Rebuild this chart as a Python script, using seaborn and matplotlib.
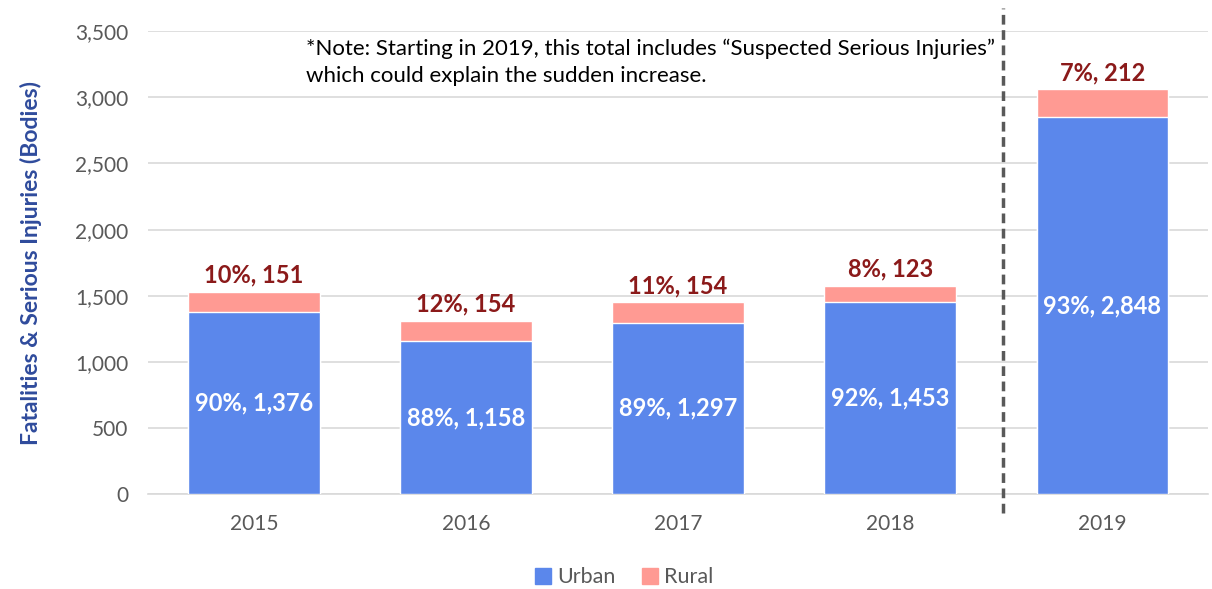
import matplotlib
matplotlib.use('Agg')
import matplotlib.pyplot as plt
from matplotlib.patches import Patch
import seaborn as sns
import pandas as pd

# data
years = ['2015', '2016', '2017', '2018', '2019']
urban = [1376, 1158, 1297, 1453, 2848]
rural = [151, 154, 154, 123, 212]
urban_pct = [90, 88, 89, 92, 93]
rural_pct = [10, 12, 11, 8, 7]
y_ticks = [0, 500, 1000, 1500, 2000, 2500, 3000, 3500]

urban_color = '#5B87EB'
rural_color = '#FF9A93'

df = pd.DataFrame({'Year': years, 'Urban': urban, 'Rural': rural})
df['Total'] = df['Urban'] + df['Rural']

sns.set_style('white')
plt.rcParams['font.family'] = ['Lato', 'DejaVu Sans']

fig = plt.figure(figsize=(12.12, 5.89), dpi=100)
ax = fig.add_axes([0.122, 0.161, 0.875, 0.786])

# stacked bars: total (rural colour) behind, urban in front
sns.barplot(data=df, x='Year', y='Total', color=rural_color, width=0.62,
            saturation=1, ax=ax, zorder=2)
sns.barplot(data=df, x='Year', y='Urban', color=urban_color, width=0.62,
            saturation=1, ax=ax, zorder=3)

ax.set_xlim(-0.5, len(years) - 0.5)
ax.set_ylim(0, 3500)
ax.set_yticks(y_ticks)
ax.set_yticklabels([f'{t:,}' for t in y_ticks])
ax.yaxis.grid(True, color='#D9D9D9', linewidth=1.2, zorder=0)
ax.set_axisbelow(True)
for s in ['top', 'right', 'left']:
    ax.spines[s].set_visible(False)
ax.spines['bottom'].set_color('#D9D9D9')
ax.spines['bottom'].set_linewidth(1.2)
ax.tick_params(axis='both', length=0, labelsize=15, colors='#595959')
ax.tick_params(axis='x', pad=14)
ax.tick_params(axis='y', pad=14)
ax.set_xlabel('')
ax.set_ylabel('Fatalities & Serious Injuries (Bodies)', fontsize=16.5,
              fontweight='bold', color='#2F4B9C', labelpad=24)

# bar labels
for i in range(len(years)):
    ax.text(i, urban[i] / 2, f'{urban_pct[i]}%, {urban[i]:,}', ha='center',
            va='center', color='white', fontsize=17, fontweight='bold', zorder=5)
    ax.text(i, urban[i] + rural[i] + 40, f'{rural_pct[i]}%, {rural[i]:,}',
            ha='center', va='bottom', color='#8B1A1A', fontsize=17,
            fontweight='bold', zorder=5)

# dashed divider before 2019
ax.plot([3.53, 3.53], [-145, 3675], linestyle=(0, (2.8, 1.6)), color='#595959',
        linewidth=2.5, clip_on=False, zorder=4)

ax.text(0.245, 3265,
        '*Note: Starting in 2019, this total includes \u201cSuspected Serious Injuries\u201d\n'
        'which could explain the sudden increase.',
        ha='left', va='center', fontsize=16, color='black', linespacing=1.45)

handles = [Patch(color=urban_color, label='Urban'),
           Patch(color=rural_color, label='Rural')]
fig.legend(handles=handles, loc='center', bbox_to_anchor=(0.515, 0.02),
           ncol=2, frameon=False, fontsize=15.5, handlelength=0.75,
           handleheight=0.75, handletextpad=0.3, columnspacing=1.2,
           labelcolor='#595959')

fig.savefig('out.png', dpi=100)
